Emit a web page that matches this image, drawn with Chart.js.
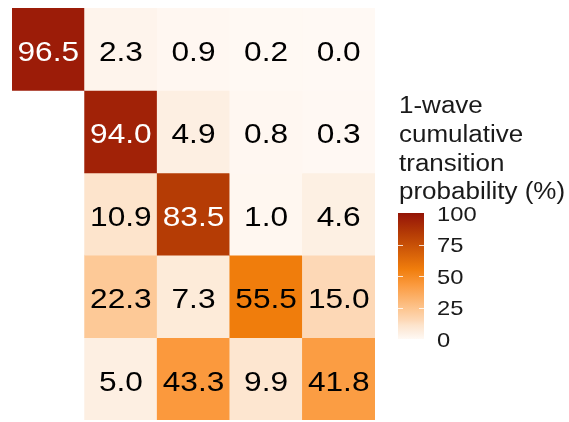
<!DOCTYPE html>
<html>
<head>
<meta charset="utf-8">
<script src="https://cdn.jsdelivr.net/npm/chart.js@4.4.1/dist/chart.umd.min.js"></script>
<style>
  html, body { margin: 0; padding: 0; background: #fff; }
  canvas { display: block; }
</style>
</head>
<body>
<canvas id="heat" width="569" height="422"></canvas>
<script>
// data: one array per row, null = empty cell
var columns = ['c1', 'c2', 'c3', 'c4', 'c5'];
var row1 = [96.5, 2.3, 0.9, 0.2, 0.0];
var row2 = [null, 94.0, 4.9, 0.8, 0.3];
var row3 = [null, 10.9, 83.5, 1.0, 4.6];
var row4 = [null, 22.3, 7.3, 55.5, 15.0];
var row5 = [null, 5.0, 43.3, 9.9, 41.8];
var rows = [row1, row2, row3, row4, row5];
var legendTicks = [0, 25, 50, 75, 100];
var legendTitle = ['1-wave', 'cumulative', 'transition', 'probability (%)'];

// colour scale (value -> colour)
var stops = [
  [0, '#fff9f4'], [5, '#fdefe2'], [10.9, '#fde4cc'], [15, '#fdd8b6'],
  [22.3, '#fdc997'], [43, '#fb9a3e'], [55.5, '#f07d0c'], [83.5, '#b53c05'],
  [96.5, '#9c1c08'], [100, '#921404']
];
function hex2rgb(h) {
  return [parseInt(h.substr(1, 2), 16), parseInt(h.substr(3, 2), 16), parseInt(h.substr(5, 2), 16)];
}
function colorFor(v) {
  for (var i = 1; i < stops.length; i++) {
    if (v <= stops[i][0]) {
      var a = stops[i - 1], b = stops[i];
      var t = (v - a[0]) / (b[0] - a[0]);
      var ca = hex2rgb(a[1]), cb = hex2rgb(b[1]);
      return 'rgb(' + ca.map(function (c, k) { return Math.round(c + (cb[k] - c) * t); }).join(',') + ')';
    }
  }
  return stops[stops.length - 1][1];
}

var sx = 1.13; // text is a bit wide in the reference
function wideText(ctx, txt, x, y) {
  ctx.save();
  ctx.translate(x, y);
  ctx.scale(sx, 1);
  ctx.fillText(txt, 0, 0);
  ctx.restore();
}

var cellLabels = {
  id: 'cellLabels',
  afterDatasetsDraw: function (chart) {
    var ctx = chart.ctx;
    ctx.save();
    ctx.font = '28px "Liberation Sans", Arial, sans-serif';
    ctx.textAlign = 'center';
    ctx.textBaseline = 'middle';
    chart.data.datasets.forEach(function (ds, i) {
      chart.getDatasetMeta(i).data.forEach(function (el, j) {
        var v = ds.data[j].v;
        ctx.fillStyle = v > 75 ? '#ffffff' : '#000000';
        wideText(ctx, v.toFixed(1), el.x, (el.y + el.base) / 2 + 4);
      });
    });
    ctx.restore();
  }
};

var colorLegend = {
  id: 'colorLegend',
  afterDraw: function (chart) {
    var ctx = chart.ctx;
    var x0 = 398, w = 26, top = 213, bottom = 339;
    function pos(v) { return bottom - v / 100 * (bottom - top); }
    ctx.save();
    ctx.fillStyle = '#1a1a1a';
    ctx.font = '23px "Liberation Sans", Arial, sans-serif';
    ctx.textAlign = 'left';
    ctx.textBaseline = 'alphabetic';
    var base = [113, 142, 171, 199];
    legendTitle.forEach(function (t, i) { wideText(ctx, t, 399, base[i]); });

    var g = ctx.createLinearGradient(0, bottom, 0, top);
    stops.forEach(function (s) { g.addColorStop(s[0] / 100, s[1]); });
    ctx.fillStyle = g;
    ctx.fillRect(x0, top, w, bottom - top);

    ctx.strokeStyle = 'rgba(255,255,255,0.8)';
    ctx.lineWidth = 1;
    legendTicks.forEach(function (t) {
      if (t === 0 || t === 100) return;
      var y = Math.round(pos(t)) + 0.5;
      ctx.beginPath();
      ctx.moveTo(x0, y); ctx.lineTo(x0 + 5, y);
      ctx.moveTo(x0 + w - 5, y); ctx.lineTo(x0 + w, y);
      ctx.stroke();
    });

    ctx.fillStyle = '#1a1a1a';
    ctx.font = '21px "Liberation Sans", Arial, sans-serif';
    ctx.textBaseline = 'middle';
    legendTicks.forEach(function (t) { wideText(ctx, String(t), 437, pos(t) + 2); });
    ctx.restore();
  }
};

var datasets = rows.map(function (vals, r) {
  var pts = [];
  vals.forEach(function (v, c) {
    if (v !== null) pts.push({ x: columns[c], y: [r, r + 1], v: v });
  });
  return {
    data: pts,
    backgroundColor: function (c) { return c.raw ? colorFor(c.raw.v) : '#fff'; },
    borderWidth: 0,
    barPercentage: 1,
    categoryPercentage: 1,
    grouped: false
  };
});

var hch = document.getElementById('heat').getContext('2d');
var heat = new Chart(hch, {
  type: 'bar',
  data: { labels: columns, datasets: datasets },
  options: {
    responsive: false,
    animation: false,
    devicePixelRatio: 1,
    layout: { padding: { left: 12, top: 8, right: 194, bottom: 2 } },
    plugins: { legend: { display: false }, tooltip: { enabled: false } },
    scales: {
      x: { type: 'category', display: false, offset: true, grid: { display: false } },
      y: { type: 'linear', display: false, min: 0, max: 5, reverse: true, grid: { display: false } }
    }
  },
  plugins: [cellLabels, colorLegend]
});
</script>
</body>
</html>
